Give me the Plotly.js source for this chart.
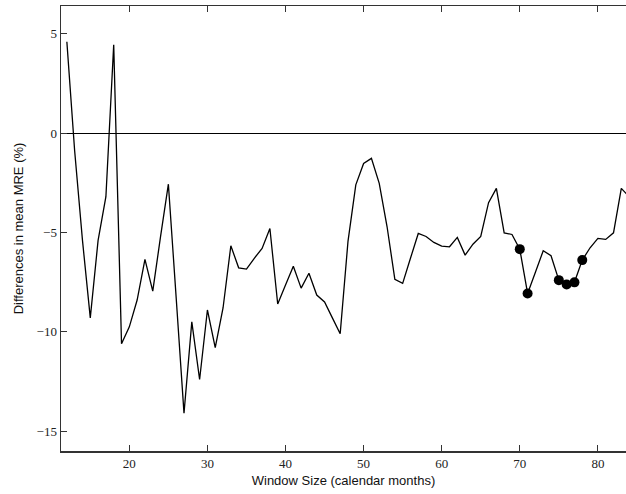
<!DOCTYPE html>
<html>
<head>
<meta charset="utf-8">
<script src="https://cdn.plot.ly/plotly-3.0.1.min.js"></script>
<style>html,body{margin:0;padding:0;background:#fff;}#chart{width:626px;height:494px;}</style>
</head>
<body>
<div id="chart"></div>
<script>
const windowSize = [12,13,14,15,16,17,18,19,20,21,22,23,24,25,26,27,28,29,30,31,32,33,34,35,36,37,38,39,40,41,42,43,44,45,46,47,48,49,50,51,52,53,54,55,56,57,58,59,60,61,62,63,64,65,66,67,68,69,70,71,72,73,74,75,76,77,78,79,80,81,82,83,84];
const diffMRE = [4.6,-0.9,-5.4,-9.3,-5.4,-3.2,4.45,-10.6,-9.75,-8.4,-6.35,-7.95,-5.2,-2.57,-8.3,-14.1,-9.5,-12.4,-8.9,-10.8,-8.8,-5.67,-6.78,-6.84,-6.3,-5.8,-4.8,-8.6,-7.65,-6.7,-7.8,-7.05,-8.15,-8.5,-9.3,-10.1,-5.45,-2.6,-1.53,-1.27,-2.53,-4.7,-7.36,-7.56,-6.3,-5.05,-5.2,-5.5,-5.69,-5.72,-5.25,-6.14,-5.59,-5.2,-3.5,-2.78,-5.02,-5.1,-5.84,-8.07,-7.0,-5.92,-6.17,-7.4,-7.62,-7.51,-6.39,-5.77,-5.3,-5.35,-5.02,-2.78,-3.2];
const markedSize = [70,71,75,76,77,78];
const markedMRE = [-5.84,-8.07,-7.4,-7.62,-7.51,-6.39];
const xTicks = [20,30,40,50,60,70,80];
const yTicks = [-15,-10,-5,0,5];

const tickFont = {family: 'Liberation Serif, DejaVu Serif, serif', size: 13, color: '#222'};
const titleFont = {family: 'Liberation Sans, Arial, sans-serif', size: 13, color: '#111'};

Plotly.newPlot('chart', [
  {x: windowSize, y: diffMRE, type: 'scatter', mode: 'lines', line: {color: '#000', width: 1.3}, hoverinfo: 'skip'},
  {x: markedSize, y: markedMRE, type: 'scatter', mode: 'markers', marker: {color: '#000', size: 10}, hoverinfo: 'skip'}
], {
  width: 626, height: 494,
  margin: {l: 61, r: 0, t: 6, b: 43},
  paper_bgcolor: '#fff', plot_bgcolor: '#fff',
  showlegend: false,
  xaxis: {
    range: [11.25, 83.6], tickvals: xTicks, ticks: 'inside', ticklen: 6, tickwidth: 1.2, tickcolor: '#333',
    showline: true, linecolor: '#333', linewidth: 1.5, mirror: 'ticks', showgrid: false, zeroline: false,
    tickfont: tickFont, title: {text: 'Window Size (calendar months)', font: titleFont, standoff: 6}
  },
  yaxis: {
    range: [-16.0, 6.4], tickvals: yTicks, ticks: 'inside', ticklen: 6, tickwidth: 1.2, tickcolor: '#333',
    showline: true, linecolor: '#333', linewidth: 1.5, showgrid: false,
    zeroline: true, zerolinecolor: '#000', zerolinewidth: 1.2,
    tickfont: tickFont, title: {text: 'Differences in mean MRE (%)', font: titleFont, standoff: 10}
  }
}, {staticPlot: true});
</script>
</body>
</html>
